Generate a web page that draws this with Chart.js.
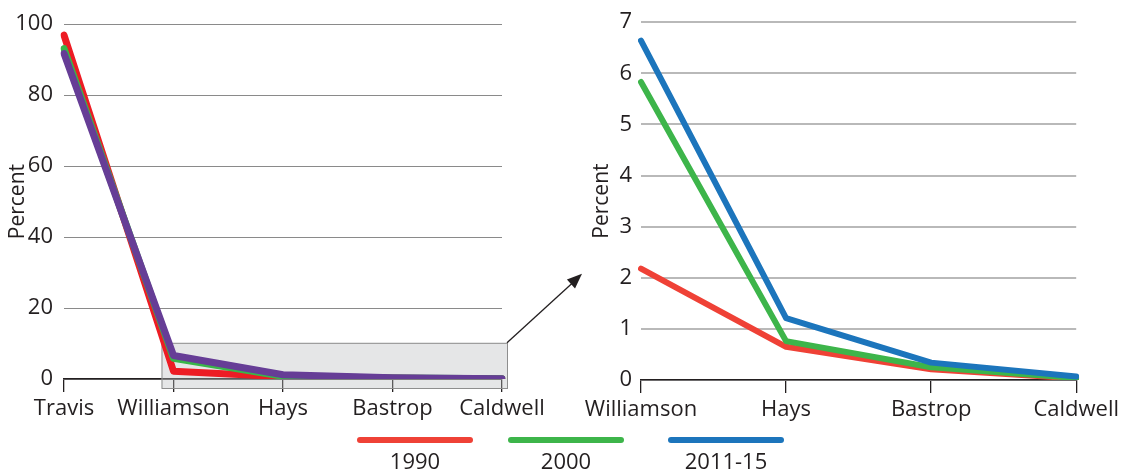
<!DOCTYPE html>
<html>
<head>
<meta charset="utf-8">
<script src="https://cdn.jsdelivr.net/npm/chart.js@4/dist/chart.umd.min.js"></script>
<style>
  html, body { margin: 0; padding: 0; background: #fff; }
  body { width: 1123px; height: 469px; position: relative; overflow: hidden; font-family: "Open Sans", sans-serif; }
  #leftWrap { position: absolute; left: 0; top: 0; width: 600px; height: 440px; }
  #rightWrap { position: absolute; left: 560px; top: 0; width: 563px; height: 440px; }
  #legend { position: absolute; left: 357px; top: 437px; display: flex; }
  .legend-item { width: 116px; text-align: center; }
  .legend-item:nth-child(2) { margin-left: 35px; }
  .legend-item:nth-child(3) { margin-left: 44px; }
  .legend-line { height: 6px; border-radius: 3px; }
  .legend-label { font-size: 22px; line-height: 24px; color: #231f20; margin-top: 5px; }
</style>
</head>
<body>
<div id="leftWrap"><canvas id="leftChart"></canvas></div>
<div id="rightWrap"><canvas id="rightChart"></canvas></div>
<div id="legend"></div>
<script>
const COUNTIES = ["Travis", "Williamson", "Hays", "Bastrop", "Caldwell"];
const YEARS = ["1990", "2000", "2011-15"];
const PCT_1990 = [96.93, 2.18, 0.65, 0.21, 0.03];
const PCT_2000 = [93.12, 5.83, 0.76, 0.25, 0.04];
const PCT_2011_15 = [91.74, 6.64, 1.21, 0.34, 0.07];
const LEFT_Y_TICKS = [0, 20, 40, 60, 80, 100];
const RIGHT_Y_TICKS = [0, 1, 2, 3, 4, 5, 6, 7];

(function (document, window) {
  "use strict";

  const FONT = "'Open Sans', sans-serif";
  const TEXT_COLOR = "#231f20";
  const LEFT_COLORS = ["#ed1c24", "#39b54a", "#663d96"];
  const RIGHT_COLORS = ["#ef4136", "#3db54a", "#1c75bc"];

  Chart.defaults.font.family = FONT;
  Chart.defaults.color = TEXT_COLOR;

  const makeDatasets = (colors, from, width) => {
    const series = [PCT_1990, PCT_2000, PCT_2011_15];
    return series.map((values, i) => ({
      label: YEARS[i],
      data: values.slice(from),
      borderColor: colors[i],
      backgroundColor: colors[i],
      borderWidth: width,
      borderCapStyle: "round",
      borderJoinStyle: "round",
      pointRadius: 0,
      tension: 0,
      fill: false,
      order: 2 - i,
    }));
  };

  // zoom box + arrow on the left panel
  const zoomBox = {
    id: "zoomBox",
    beforeDatasetsDraw: (chart) => {
      const { ctx } = chart;
      const x = chart.scales.x;
      const y = chart.scales.y;
      const left = x.getPixelForValue(1) - 12;
      const right = x.getPixelForValue(4) + 5;
      const top = y.getPixelForValue(10.2);
      const bottom = y.getPixelForValue(0) + 9;
      ctx.save();
      ctx.fillStyle = "rgba(186,188,192,0.38)";
      ctx.fillRect(left, top, right - left, bottom - top);
      ctx.strokeStyle = "#8e8e8e";
      ctx.lineWidth = 1;
      ctx.strokeRect(left + 0.5, top + 0.5, right - left, bottom - top);
      // arrow to the zoomed panel
      const ex = right + 75;
      const ey = top - 69;
      ctx.strokeStyle = TEXT_COLOR;
      ctx.fillStyle = TEXT_COLOR;
      ctx.lineWidth = 1.3;
      ctx.beginPath();
      ctx.moveTo(right, top);
      ctx.lineTo(ex - 6, ey + 6);
      ctx.stroke();
      const ang = Math.atan2(ey - top, ex - right);
      const len = 15, half = 6;
      ctx.beginPath();
      ctx.moveTo(ex, ey);
      ctx.lineTo(ex - len * Math.cos(ang) + half * Math.sin(ang), ey - len * Math.sin(ang) - half * Math.cos(ang));
      ctx.lineTo(ex - len * Math.cos(ang) - half * Math.sin(ang), ey - len * Math.sin(ang) + half * Math.cos(ang));
      ctx.closePath();
      ctx.fill();
      ctx.restore();
    },
  };

  const makeOptions = (cfg) => ({
    responsive: true,
    maintainAspectRatio: false,
    animation: false,
    layout: { padding: { top: cfg.padTop, right: cfg.padRight, bottom: 0, left: 0 } },
    plugins: { legend: { display: false }, tooltip: { enabled: false } },
    scales: {
      x: {
        type: "category",
        offset: false,
        grid: {
          display: true,
          drawOnChartArea: false,
          drawTicks: true,
          tickLength: 13,
          color: TEXT_COLOR,
          lineWidth: 1.3,
        },
        border: { display: true, color: TEXT_COLOR, width: 1.5 },
        ticks: { font: { size: 22 }, color: TEXT_COLOR, padding: 4, maxRotation: 0, autoSkip: false },
        afterFit: (s) => { s.height = cfg.xHeight; },
      },
      y: {
        min: 0,
        max: cfg.yTicks[cfg.yTicks.length - 1],
        afterBuildTicks: (s) => { s.ticks = cfg.yTicks.map((v) => ({ value: v })); },
        grid: { color: cfg.gridColor, lineWidth: cfg.gridWidth, drawTicks: false },
        border: { display: false },
        ticks: { font: { size: 22 }, color: TEXT_COLOR, padding: cfg.tickPad },
        title: {
          display: true,
          text: "Percent",
          font: { size: 21 },
          color: TEXT_COLOR,
          padding: { top: cfg.titlePad, bottom: 0 },
        },
        afterFit: (s) => { s.width = cfg.yWidth; },
      },
    },
  });

  new Chart(document.getElementById("leftChart").getContext("2d"), {
    type: "line",
    data: { labels: COUNTIES, datasets: makeDatasets(LEFT_COLORS, 0, 7) },
    options: makeOptions({
      padTop: 20, padRight: 98, xHeight: 61, yWidth: 64, tickPad: 11,
      titlePad: 5, gridColor: "#8a8a8a", gridWidth: 1, yTicks: LEFT_Y_TICKS,
    }),
    plugins: [zoomBox],
  });

  new Chart(document.getElementById("rightChart").getContext("2d"), {
    type: "line",
    data: { labels: COUNTIES.slice(1), datasets: makeDatasets(RIGHT_COLORS, 1, 6) },
    options: makeOptions({
      padTop: 21, padRight: 44, xHeight: 60, yWidth: 81, tickPad: 9,
      titlePad: 29, gridColor: "#b9b9b9", gridWidth: 2, yTicks: RIGHT_Y_TICKS,
    }),
  });

  // legend: line on top, year below
  const $legend = document.getElementById("legend");
  YEARS.forEach((year, i) => {
    const item = document.createElement("div");
    item.className = "legend-item";
    item.innerHTML = `<div class="legend-line" style="background:${RIGHT_COLORS[i]}"></div><div class="legend-label">${year}</div>`;
    $legend.appendChild(item);
  });
})(document, window);
</script>
</body>
</html>
